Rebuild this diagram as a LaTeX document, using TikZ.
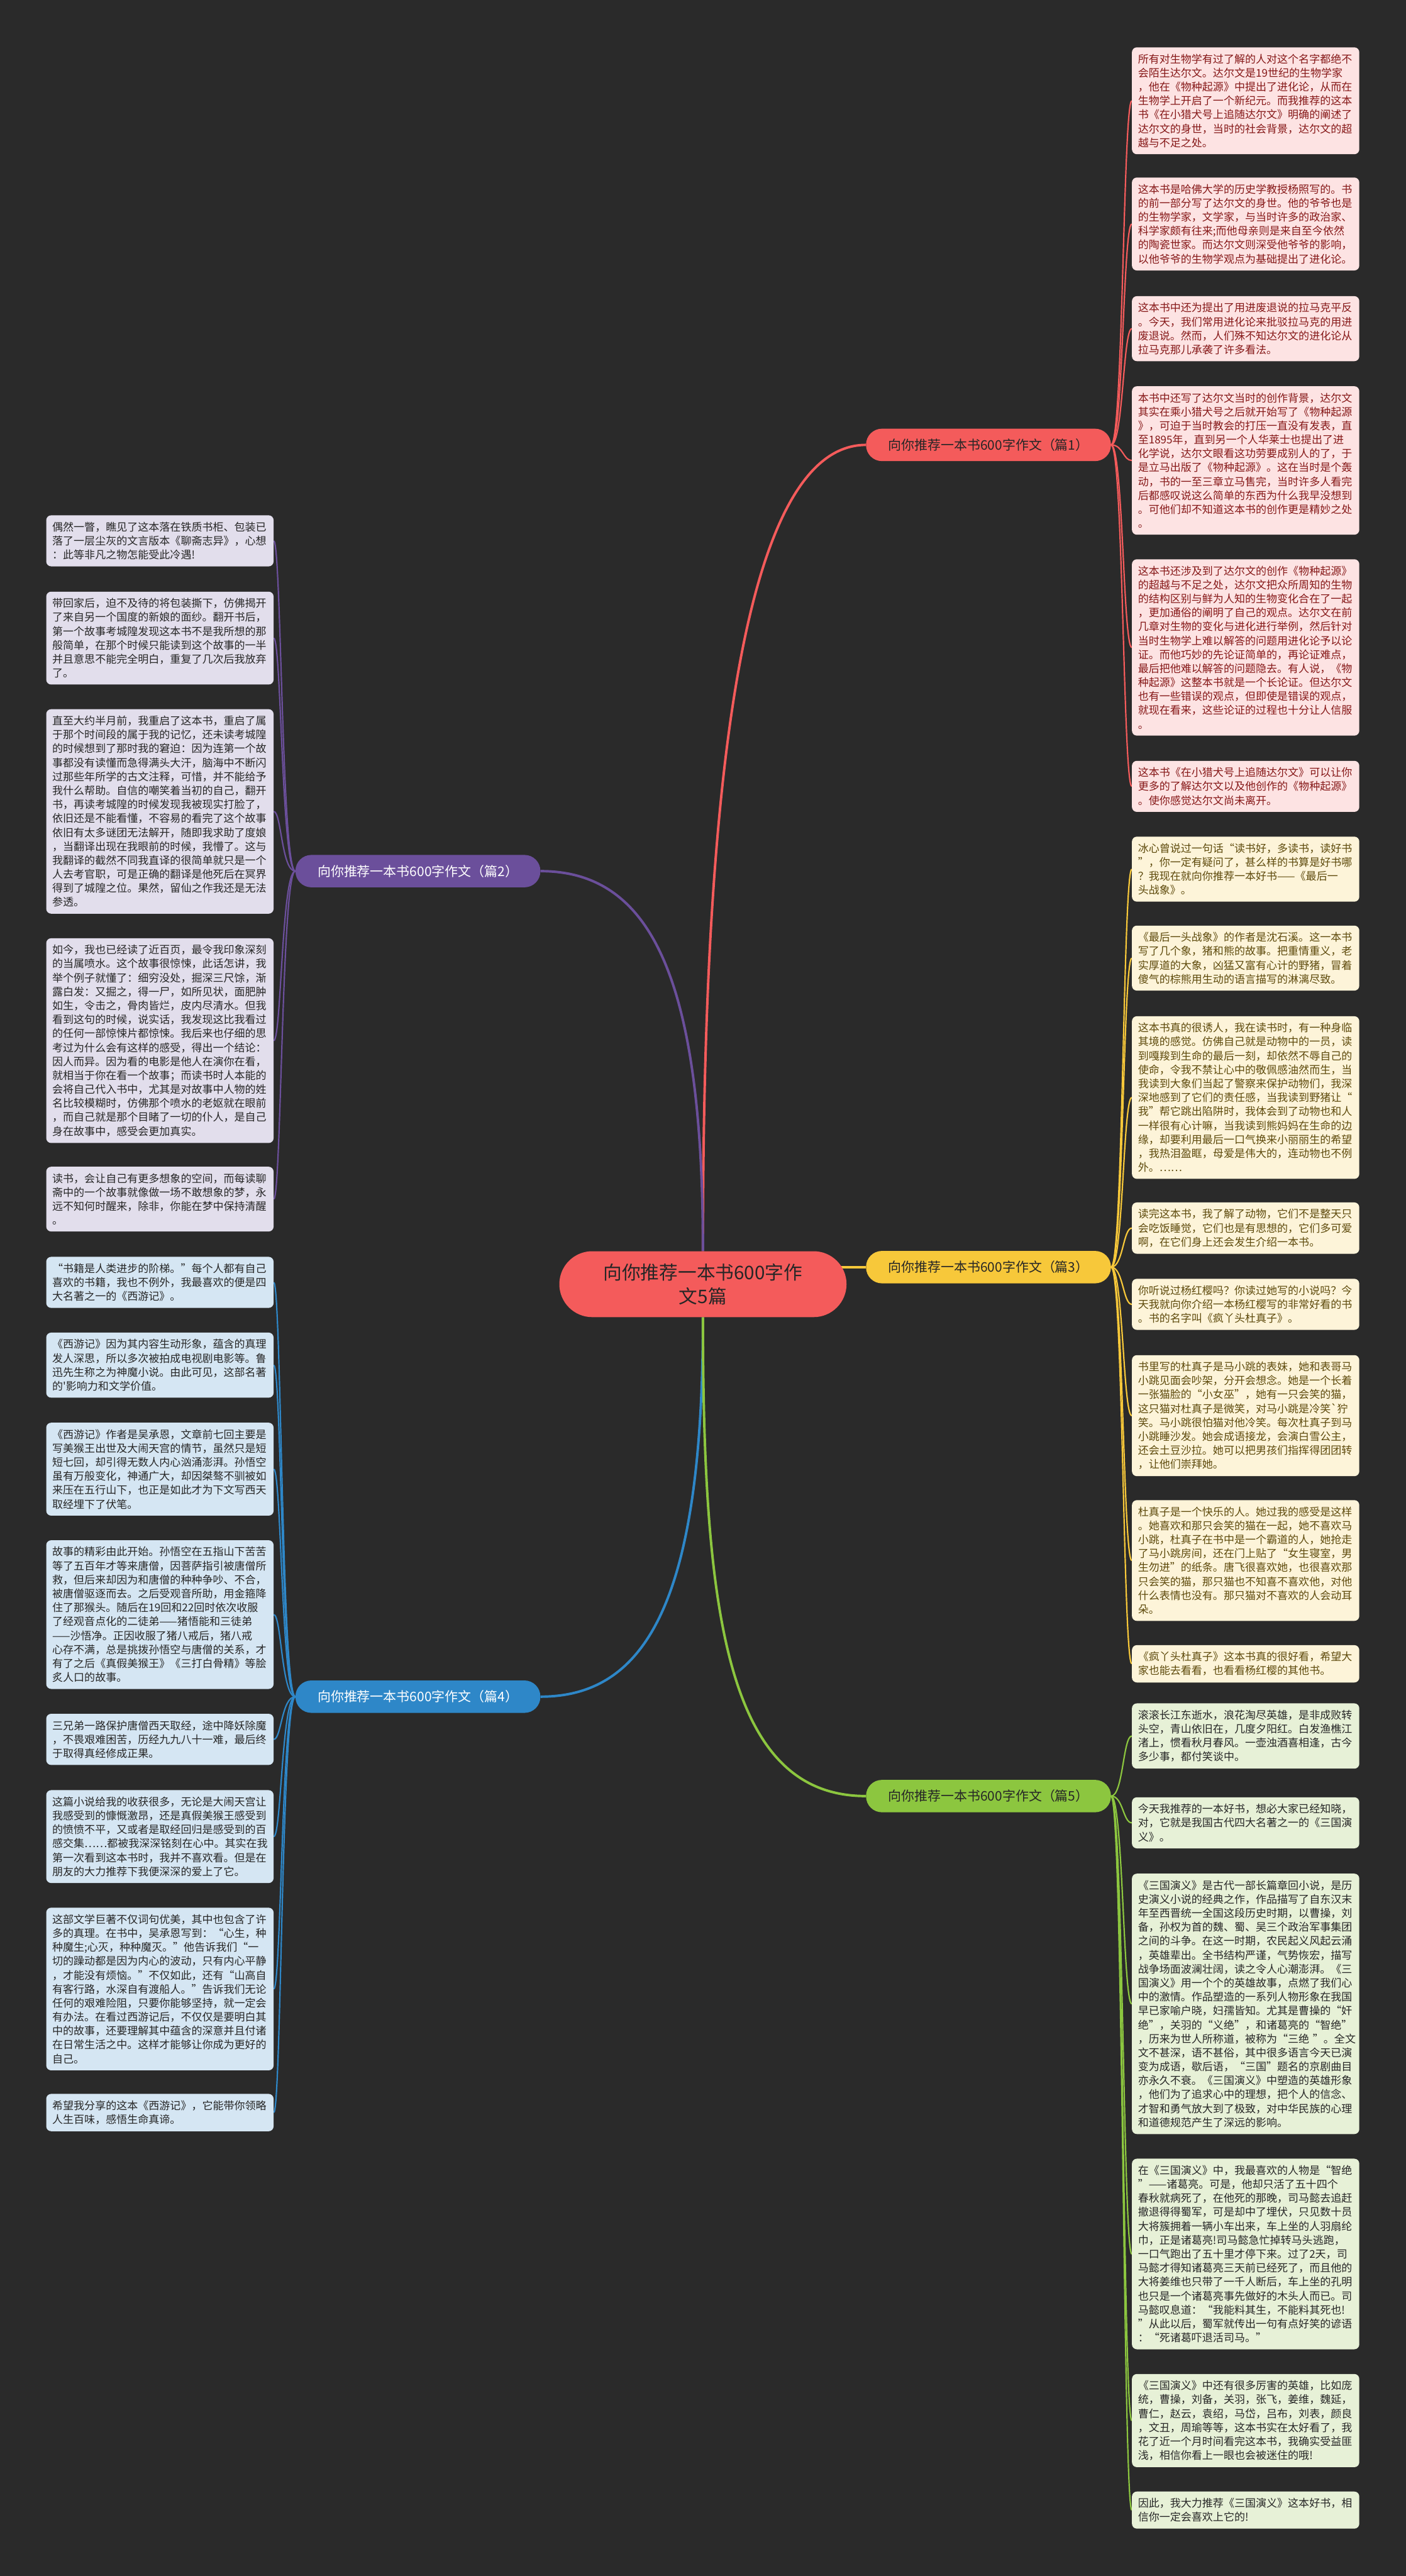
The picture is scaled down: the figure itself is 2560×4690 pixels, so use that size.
\documentclass[tikz,border=0pt]{standalone}
\usepackage{fontspec}
\newfontfamily\cjk{Noto Sans CJK SC}
\usepackage{tikz}
\pgfdeclarelayer{bg}
\pgfdeclarelayer{wires}
\pgfsetlayers{bg,wires,main}

\definecolor{bgcol}{HTML}{2A2A2A}
\definecolor{redc}{HTML}{F45B5B}
\definecolor{redbox}{HTML}{FDE3E3}
\definecolor{redtxt}{HTML}{861818}
\definecolor{purc}{HTML}{6B4F9B}
\definecolor{purbox}{HTML}{E2DEEC}
\definecolor{yelc}{HTML}{F7C83A}
\definecolor{yelbox}{HTML}{FDF4D9}
\definecolor{yeltxt}{HTML}{5E4A0C}
\definecolor{bluc}{HTML}{2E87C8}
\definecolor{blubox}{HTML}{D5E6F3}
\definecolor{grec}{HTML}{8CC63F}
\definecolor{grebox}{HTML}{E7F1D7}
\definecolor{darktxt}{HTML}{262626}

\tikzset{
  leaf/.style={anchor=north west,rounded corners=9pt,inner xsep=11pt,
    inner ysep=12pt,text width=392pt,align=left,
    font=\cjk\fontsize{19.5pt}{25.4pt}\selectfont},
  branch/.style={rounded corners=29pt,minimum width=446pt,
    minimum height=59pt,inner sep=0pt,font=\cjk\fontsize{24pt}{28pt}\selectfont},
  wire/.style={line width=2.5pt},
  trunk/.style={line width=4.5pt}
}
\newcommand*{\twigR}[3]
  {\foreach \b in {#3} \draw[wire,#2] (#1.east) .. controls +(22,0) and +(-16,0) .. (\b.west);}
\newcommand*{\twigL}[3]
  {\foreach \b in {#3} \draw[wire,#2] (#1.west) .. controls +(-25,0) and +(14,0) .. (\b.east);}

\begin{document}
\begin{tikzpicture}[x=1pt,y=-1pt]
\useasboundingbox (0,0) rectangle (2560,4690);
\begin{pgfonlayer}{bg}
\fill[bgcol] (0,0) rectangle (2560,4690);
\end{pgfonlayer}

% Root and branches
\node[fill=redc,text=darktxt,rounded corners=60pt,minimum width=523pt,minimum height=120pt,
  align=center,font=\cjk\fontsize{34pt}{44pt}\selectfont] (root) at (1280,2338)
  {向你推荐一本书600字作\\文5篇};
\node[branch,fill=redc,text=darktxt] (bk1) at (1800,810) {向你推荐一本书600字作文（篇1）};
\node[branch,fill=purc,text=white] (bk2) at (761,1586) {向你推荐一本书600字作文（篇2）};
\node[branch,fill=yelc,text=darktxt] (bk3) at (1800,2307) {向你推荐一本书600字作文（篇3）};
\node[branch,fill=bluc,text=white] (bk4) at (761,3089) {向你推荐一本书600字作文（篇4）};
\node[branch,fill=grec,text=darktxt] (bk5) at (1800,3270) {向你推荐一本书600字作文（篇5）};

% Part 1
\node[leaf,fill=redbox,text=redtxt] (da1) at (2061,86) {所有对生物学有过了解的人对这个名字都绝不\\会陌生达尔文。达尔文是19世纪的生物学家\\，他在《物种起源》中提出了进化论，从而在\\生物学上开启了一个新纪元。而我推荐的这本\\书《在小猎犬号上追随达尔文》明确的阐述了\\达尔文的身世，当时的社会背景，达尔文的超\\越与不足之处。};
\node[leaf,fill=redbox,text=redtxt] (da2) at (2061,323) {这本书是哈佛大学的历史学教授杨照写的。书\\的前一部分写了达尔文的身世。他的爷爷也是\\的生物学家，文学家，与当时许多的政治家、\\科学家颇有往来;而他母亲则是来自至今依然\\的陶瓷世家。而达尔文则深受他爷爷的影响，\\以他爷爷的生物学观点为基础提出了进化论。};
\node[leaf,fill=redbox,text=redtxt] (da3) at (2061,539) {这本书中还为提出了用进废退说的拉马克平反\\。今天，我们常用进化论来批驳拉马克的用进\\废退说。然而，人们殊不知达尔文的进化论从\\拉马克那儿承袭了许多看法。};
\node[leaf,fill=redbox,text=redtxt] (da4) at (2061,703) {本书中还写了达尔文当时的创作背景，达尔文\\其实在乘小猎犬号之后就开始写了《物种起源\\》，可迫于当时教会的打压一直没有发表，直\\至1895年，直到另一个人华莱士也提出了进\\化学说，达尔文眼看这功劳要成别人的了，于\\是立马出版了《物种起源》。这在当时是个轰\\动，书的一至三章立马售完，当时许多人看完\\后都感叹说这么简单的东西为什么我早没想到\\。可他们却不知道这本书的创作更是精妙之处\\。};
\node[leaf,fill=redbox,text=redtxt] (da5) at (2061,1018) {这本书还涉及到了达尔文的创作《物种起源》\\的超越与不足之处，达尔文把众所周知的生物\\的结构区别与鲜为人知的生物变化合在了一起\\，更加通俗的阐明了自己的观点。达尔文在前\\几章对生物的变化与进化进行举例，然后针对\\当时生物学上难以解答的问题用进化论予以论\\证。而他巧妙的先论证简单的，再论证难点，\\最后把他难以解答的问题隐去。有人说，《物\\种起源》这整本书就是一个长论证。但达尔文\\也有一些错误的观点，但即使是错误的观点，\\就现在看来，这些论证的过程也十分让人信服\\。};
\node[leaf,fill=redbox,text=redtxt] (da6) at (2061,1385) {这本书《在小猎犬号上追随达尔文》可以让你\\更多的了解达尔文以及他创作的《物种起源》\\。使你感觉达尔文尚未离开。};

% Part 3
\node[leaf,fill=yelbox,text=yeltxt] (xy1) at (2061,1523) {冰心曾说过一句话“读书好，多读书，读好书\\”，你一定有疑问了，甚么样的书算是好书哪\\？我现在就向你推荐一本好书——《最后一\\头战象》。};
\node[leaf,fill=yelbox,text=yeltxt] (xy2) at (2061,1685) {《最后一头战象》的作者是沈石溪。这一本书\\写了几个象，猪和熊的故事。把重情重义，老\\实厚道的大象，凶猛又富有心计的野猪，冒着\\傻气的棕熊用生动的语言描写的淋漓尽致。};
\node[leaf,fill=yelbox,text=yeltxt] (xy3) at (2061,1850) {这本书真的很诱人，我在读书时，有一种身临\\其境的感觉。仿佛自己就是动物中的一员，读\\到嘎羧到生命的最后一刻，却依然不辱自己的\\使命，令我不禁让心中的敬佩感油然而生，当\\我读到大象们当起了警察来保护动物们，我深\\深地感到了它们的责任感，当我读到野猪让“\\我”帮它跳出陷阱时，我体会到了动物也和人\\一样很有心计嘛，当我读到熊妈妈在生命的边\\缘，却要利用最后一口气换来小丽丽生的希望\\，我热泪盈眶，母爱是伟大的，连动物也不例\\外。……};
\node[leaf,fill=yelbox,text=yeltxt] (xy4) at (2061,2189) {读完这本书，我了解了动物，它们不是整天只\\会吃饭睡觉，它们也是有思想的，它们多可爱\\啊，在它们身上还会发生介绍一本书。};
\node[leaf,fill=yelbox,text=yeltxt] (xy5) at (2061,2328) {你听说过杨红樱吗？你读过她写的小说吗？今\\天我就向你介绍一本杨红樱写的非常好看的书\\。书的名字叫《疯丫头杜真子》。};
\node[leaf,fill=yelbox,text=yeltxt] (xy6) at (2061,2467) {书里写的杜真子是马小跳的表妹，她和表哥马\\小跳见面会吵架，分开会想念。她是一个长着\\一张猫脸的“小女巫”，她有一只会笑的猫，\\这只猫对杜真子是微笑，对马小跳是冷笑`狞\\笑。马小跳很怕猫对他冷笑。每次杜真子到马\\小跳睡沙发。她会成语接龙，会演白雪公主，\\还会土豆沙拉。她可以把男孩们指挥得团团转\\，让他们崇拜她。};
\node[leaf,fill=yelbox,text=yeltxt] (xy7) at (2061,2731) {杜真子是一个快乐的人。她过我的感受是这样\\。她喜欢和那只会笑的猫在一起，她不喜欢马\\小跳，杜真子在书中是一个霸道的人，她抢走\\了马小跳房间，还在门上贴了“女生寝室，男\\生勿进”的纸条。唐飞很喜欢她，也很喜欢那\\只会笑的猫，那只猫也不知喜不喜欢他，对他\\什么表情也没有。那只猫对不喜欢的人会动耳\\朵。};
\node[leaf,fill=yelbox,text=yeltxt] (xy8) at (2061,2995) {《疯丫头杜真子》这本书真的很好看，希望大\\家也能去看看，也看看杨红樱的其他书。};

% Part 5
\node[leaf,fill=grebox,text=darktxt] (sg0) at (2061,3101) {滚滚长江东逝水，浪花淘尽英雄，是非成败转\\头空，青山依旧在，几度夕阳红。白发渔樵江\\渚上，惯看秋月春风。一壶浊酒喜相逢，古今\\多少事，都付笑谈中。};
\node[leaf,fill=grebox,text=darktxt] (sg1) at (2061,3272) {今天我推荐的一本好书，想必大家已经知晓，\\对，它就是我国古代四大名著之一的《三国演\\义》。};
\node[leaf,fill=grebox,text=darktxt] (sg2) at (2061,3411) {《三国演义》是古代一部长篇章回小说，是历\\史演义小说的经典之作，作品描写了自东汉末\\年至西晋统一全国这段历史时期，以曹操，刘\\备，孙权为首的魏、蜀、吴三个政治军事集团\\之间的斗争。在这一时期，农民起义风起云涌\\，英雄辈出。全书结构严谨，气势恢宏，描写\\战争场面波澜壮阔，读之令人心潮澎湃。《三\\国演义》用一个个的英雄故事，点燃了我们心\\中的激情。作品塑造的一系列人物形象在我国\\早已家喻户晓，妇孺皆知。尤其是曹操的“奸\\绝”，关羽的“义绝”，和诸葛亮的“智绝”\\，历来为世人所称道，被称为“三绝~”。全文\\文不甚深，语不甚俗，其中很多语言今天已演\\变为成语，歇后语，“三国”题名的京剧曲目\\亦永久不衰。《三国演义》中塑造的英雄形象\\，他们为了追求心中的理想，把个人的信念、\\才智和勇气放大到了极致，对中华民族的心理\\和道德规范产生了深远的影响。};
\node[leaf,fill=grebox,text=darktxt] (sg3) at (2061,3930) {在《三国演义》中，我最喜欢的人物是“智绝\\”——诸葛亮。可是，他却只活了五十四个\\春秋就病死了，在他死的那晚，司马懿去追赶\\撤退得得蜀军，可是却中了埋伏，只见数十员\\大将簇拥着一辆小车出来，车上坐的人羽扇纶\\巾，正是诸葛亮!司马懿急忙掉转马头逃跑，\\一口气跑出了五十里才停下来。过了2天，司\\马懿才得知诸葛亮三天前已经死了，而且他的\\大将姜维也只带了一千人断后，车上坐的孔明\\也只是一个诸葛亮事先做好的木头人而已。司\\马懿叹息道：“我能料其生，不能料其死也!\\”从此以后，蜀军就传出一句有点好笑的谚语\\：“死诸葛吓退活司马。”};
\node[leaf,fill=grebox,text=darktxt] (sg4) at (2061,4322) {《三国演义》中还有很多厉害的英雄，比如庞\\统，曹操，刘备，关羽，张飞，姜维，魏延，\\曹仁，赵云，袁绍，马岱，吕布，刘表，颜良\\，文丑，周瑜等等，这本书实在太好看了，我\\花了近一个月时间看完这本书，我确实受益匪\\浅，相信你看上一眼也会被迷住的哦!};
\node[leaf,fill=grebox,text=darktxt] (sg5) at (2061,4536) {因此，我大力推荐《三国演义》这本好书，相\\信你一定会喜欢上它的!};

% Part 2
\node[leaf,fill=purbox,text=darktxt] (lz1) at (84,938) {偶然一瞥，瞧见了这本落在铁质书柜、包装已\\落了一层尘灰的文言版本《聊斋志异》，心想\\：此等非凡之物怎能受此冷遇!};
\node[leaf,fill=purbox,text=darktxt] (lz2) at (84,1077) {带回家后，迫不及待的将包装撕下，仿佛揭开\\了来自另一个国度的新娘的面纱。翻开书后，\\第一个故事考城隍发现这本书不是我所想的那\\般简单，在那个时候只能读到这个故事的一半\\并且意思不能完全明白，重复了几次后我放弃\\了。};
\node[leaf,fill=purbox,text=darktxt] (lz3) at (84,1291) {直至大约半月前，我重启了这本书，重启了属\\于那个时间段的属于我的记忆，还未读考城隍\\的时候想到了那时我的窘迫：因为连第一个故\\事都没有读懂而急得满头大汗，脑海中不断闪\\过那些年所学的古文注释，可惜，并不能给予\\我什么帮助。自信的嘲笑着当初的自己，翻开\\书，再读考城隍的时候发现我被现实打脸了，\\依旧还是不能看懂，不容易的看完了这个故事\\依旧有太多谜团无法解开，随即我求助了度娘\\，当翻译出现在我眼前的时候，我懵了。这与\\我翻译的截然不同我直译的很简单就只是一个\\人去考官职，可是正确的翻译是他死后在冥界\\得到了城隍之位。果然，留仙之作我还是无法\\参透。};
\node[leaf,fill=purbox,text=darktxt] (lz4) at (84,1708) {如今，我也已经读了近百页，最令我印象深刻\\的当属喷水。这个故事很惊悚，此话怎讲，我\\举个例子就懂了：细穷没处，掘深三尺馀，渐\\露白发：又掘之，得一尸，如所见状，面肥肿\\如生，令击之，骨肉皆烂，皮内尽清水。但我\\看到这句的时候，说实话，我发现这比我看过\\的任何一部惊悚片都惊悚。我后来也仔细的思\\考过为什么会有这样的感受，得出一个结论：\\因人而异。因为看的电影是他人在演你在看，\\就相当于你在看一个故事；而读书时人本能的\\会将自己代入书中，尤其是对故事中人物的姓\\名比较模糊时，仿佛那个喷水的老妪就在眼前\\，而自己就是那个目睹了一切的仆人，是自己\\身在故事中，感受会更加真实。};
\node[leaf,fill=purbox,text=darktxt] (lz5) at (84,2124) {读书，会让自己有更多想象的空间，而每读聊\\斋中的一个故事就像做一场不敢想象的梦，永\\远不知何时醒来，除非，你能在梦中保持清醒\\。};

% Part 4
\node[leaf,fill=blubox,text=darktxt] (xj1) at (84,2288) {“书籍是人类进步的阶梯。”每个人都有自己\\喜欢的书籍，我也不例外，我最喜欢的便是四\\大名著之一的《西游记》。};
\node[leaf,fill=blubox,text=darktxt] (xj2) at (84,2426) {《西游记》因为其内容生动形象，蕴含的真理\\发人深思，所以多次被拍成电视剧电影等。鲁\\迅先生称之为神魔小说。由此可见，这部名著\\的'影响力和文学价值。};
\node[leaf,fill=blubox,text=darktxt] (xj3) at (84,2590) {《西游记》作者是吴承恩，文章前七回主要是\\写美猴王出世及大闹天宫的情节，虽然只是短\\短七回，却引得无数人内心汹涌澎湃。孙悟空\\虽有万般变化，神通广大，却因桀骜不驯被如\\来压在五行山下，也正是如此才为下文写西天\\取经埋下了伏笔。};
\node[leaf,fill=blubox,text=darktxt] (xj4) at (84,2804) {故事的精彩由此开始。孙悟空在五指山下苦苦\\等了五百年才等来唐僧，因菩萨指引被唐僧所\\救，但后来却因为和唐僧的种种争吵、不合，\\被唐僧驱逐而去。之后受观音所助，用金箍降\\住了那猴头。随后在19回和22回时依次收服\\了经观音点化的二徒弟——猪悟能和三徒弟\\——沙悟净。正因收服了猪八戒后，猪八戒\\心存不满，总是挑拨孙悟空与唐僧的关系，才\\有了之后《真假美猴王》《三打白骨精》等脍\\炙人口的故事。};
\node[leaf,fill=blubox,text=darktxt] (xj5) at (84,3120) {三兄弟一路保护唐僧西天取经，途中降妖除魔\\，不畏艰难困苦，历经九九八十一难，最后终\\于取得真经修成正果。};
\node[leaf,fill=blubox,text=darktxt] (xj6) at (84,3259) {这篇小说给我的收获很多，无论是大闹天宫让\\我感受到的慷慨激昂，还是真假美猴王感受到\\的愤愤不平，又或者是取经回归是感受到的百\\感交集……都被我深深铭刻在心中。其实在我\\第一次看到这本书时，我并不喜欢看。但是在\\朋友的大力推荐下我便深深的爱上了它。};
\node[leaf,fill=blubox,text=darktxt] (xj7) at (84,3473) {这部文学巨著不仅词句优美，其中也包含了许\\多的真理。在书中，吴承恩写到：“心生，种\\种魔生;心灭，种种魔灭。”他告诉我们“一\\切的躁动都是因为内心的波动，只有内心平静\\，才能没有烦恼。”不仅如此，还有“山高自\\有客行路，水深自有渡船人。”告诉我们无论\\任何的艰难险阻，只要你能够坚持，就一定会\\有办法。在看过西游记后，不仅仅是要明白其\\中的故事，还要理解其中蕴含的深意并且付诸\\在日常生活之中。这样才能够让你成为更好的\\自己。};
\node[leaf,fill=blubox,text=darktxt] (xj8) at (84,3812) {希望我分享的这本《西游记》，它能带你领略\\人生百味，感悟生命真谛。};

% Connectors
\begin{pgfonlayer}{wires}
\draw[trunk,redc] (root.north) .. controls +(0,-700) and +(-250,0) .. (bk1.west);
\draw[trunk,purc] (root.north) .. controls +(0,-500) and +(200,0) .. (bk2.east);
\draw[trunk,yelc] (root.center |- bk3.west) -- (bk3.west);
\draw[trunk,bluc] (root.south) .. controls +(0,500) and +(200,0) .. (bk4.east);
\draw[trunk,grec] (root.south) .. controls +(0,550) and +(-250,0) .. (bk5.west);
\twigR{bk1}{redc}{da1,da2,da3,da4,da5,da6}
\twigR{bk3}{yelc}{xy1,xy2,xy3,xy4,xy5,xy6,xy7,xy8}
\twigR{bk5}{grec}{sg0,sg1,sg2,sg3,sg4,sg5}
\twigL{bk2}{purc}{lz1,lz2,lz3,lz4,lz5}
\twigL{bk4}{bluc}{xj1,xj2,xj3,xj4,xj5,xj6,xj7,xj8}
\end{pgfonlayer}
\end{tikzpicture}
\end{document}
